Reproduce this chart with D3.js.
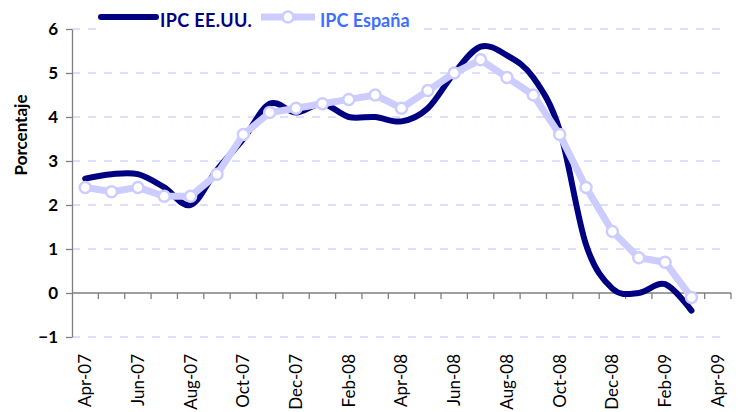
<!DOCTYPE html>
<html>
<head>
<meta charset="utf-8">
<script src="https://d3js.org/d3.v7.min.js"></script>
<style>
  body { margin: 0; background: #fff; }
  svg { font-family: Lato, "Open Sans", sans-serif; }
</style>
</head>
<body>
<svg width="743" height="412"></svg>
<script>
// months on the category axis (last one has no data)
var months = ["Apr-07","May-07","Jun-07","Jul-07","Aug-07","Sep-07","Oct-07","Nov-07","Dec-07",
  "Jan-08","Feb-08","Mar-08","Apr-08","May-08","Jun-08","Jul-08","Aug-08","Sep-08","Oct-08",
  "Nov-08","Dec-08","Jan-09","Feb-09","Mar-09","Apr-09"];
var ipcUSA = [2.6,2.7,2.7,2.4,2.0,2.8,3.5,4.3,4.1,4.3,4.0,4.0,3.9,4.2,5.0,5.6,5.4,4.9,3.7,1.1,0.1,0.0,0.2,-0.4];
var ipcEsp = [2.4,2.3,2.4,2.2,2.2,2.7,3.6,4.1,4.2,4.3,4.4,4.5,4.2,4.6,5.0,5.3,4.9,4.5,3.6,2.4,1.4,0.8,0.7,-0.1];
var yTicks = [-1,0,1,2,3,4,5,6];

var svg = d3.select("svg");

var x = d3.scaleBand().domain(months).range([72, 731]);
var y = d3.scaleLinear().domain([-1, 6]).range([337, 29]);
var cx = function(i){ return x(months[i]) + x.bandwidth() / 2; };

// dashed gridlines
svg.append("g").selectAll("line")
  .data(yTicks.filter(function(d){ return d != 0; }))
  .enter().append("line")
    .attr("x1", 72).attr("x2", 728)
    .attr("y1", function(d){ return y(d); })
    .attr("y2", function(d){ return y(d); })
    .attr("stroke", "#d4d4ff")
    .attr("stroke-width", 1.3)
    .attr("stroke-dasharray", "8,8");

// y axis
var yAxis = svg.append("g")
    .attr("transform", "translate(72,0)")
    .call(d3.axisLeft(y).tickValues(yTicks).tickSize(6).tickSizeOuter(0).tickFormat(d3.format("d")));
yAxis.selectAll("path, line").attr("stroke", "#7f7f7f").attr("stroke-width", 1.3);
yAxis.selectAll("text")
    .attr("x", -14)
    .attr("font-family", "Lato, sans-serif")
    .attr("font-size", 17)
    .attr("font-weight", "bold")
    .attr("fill", "#000");

svg.append("text")
    .attr("transform", "translate(21,135) rotate(-90)")
    .attr("dy", "0.35em")
    .attr("text-anchor", "middle")
    .attr("font-size", 17)
    .attr("font-weight", "bold")
    .text("Porcentaje");

// x axis at y = 0
var xg = svg.append("g").attr("transform", "translate(0," + y(0) + ")");
xg.append("line").attr("x1", 72).attr("x2", 731).attr("stroke", "#7f7f7f").attr("stroke-width", 1.3);
xg.selectAll(".tk")
  .data(d3.range(1, months.length + 1))
  .enter().append("line")
    .attr("class", "tk")
    .attr("x1", function(i){ return 72 + i * x.step(); })
    .attr("x2", function(i){ return 72 + i * x.step(); })
    .attr("y1", 0).attr("y2", 6)
    .attr("stroke", "#7f7f7f").attr("stroke-width", 1.3);

svg.append("g").selectAll("text")
  .data(months.filter(function(d, i){ return i % 2 == 0; }))
  .enter().append("text")
    .attr("transform", function(d){ return "translate(" + (x(d) + x.bandwidth() / 2) + ",354) rotate(-90)"; })
    .attr("dy", "0.35em")
    .attr("text-anchor", "end")
    .attr("font-size", 17)
    .text(function(d){ return d; });

// series
var usLine = d3.line()
    .x(function(d, i){ return cx(i); })
    .y(function(d){ return y(d); })
    .curve(d3.curveCardinal.tension(0));
var espLine = d3.line()
    .x(function(d, i){ return cx(i); })
    .y(function(d){ return y(d); });

svg.append("path")
    .datum(ipcUSA)
    .attr("d", usLine)
    .attr("fill", "none")
    .attr("stroke", "#000080")
    .attr("stroke-width", 6)
    .attr("stroke-linecap", "round")
    .attr("stroke-linejoin", "round");

svg.append("path")
    .datum(ipcEsp)
    .attr("d", espLine)
    .attr("fill", "none")
    .attr("stroke", "#ccccff")
    .attr("stroke-width", 7)
    .attr("stroke-linejoin", "round");

svg.append("g").selectAll("circle")
  .data(ipcEsp)
  .enter().append("circle")
    .attr("cx", function(d, i){ return cx(i); })
    .attr("cy", function(d){ return y(d); })
    .attr("r", 5.5)
    .attr("fill", "#fff")
    .attr("stroke", "#ccccff")
    .attr("stroke-width", 2.5);

// legend
var legend = svg.append("g");
legend.append("rect").attr("x", 98).attr("y", 4).attr("width", 322).attr("height", 28).attr("fill", "#fff");
legend.append("line").attr("x1", 101).attr("x2", 156).attr("y1", 17).attr("y2", 17)
    .attr("stroke", "#000080").attr("stroke-width", 6).attr("stroke-linecap", "round");
legend.append("text").attr("x", 160).attr("y", 27)
    .attr("font-size", 18).attr("font-weight", "bold").attr("fill", "#000080")
    .attr("letter-spacing", 0.4)
    .text("IPC EE.UU.");
legend.append("line").attr("x1", 261).attr("x2", 315).attr("y1", 17).attr("y2", 17)
    .attr("stroke", "#ccccff").attr("stroke-width", 7);
legend.append("circle").attr("cx", 288).attr("cy", 17).attr("r", 5.5)
    .attr("fill", "#fff").attr("stroke", "#ccccff").attr("stroke-width", 2.5);
legend.append("text").attr("x", 320).attr("y", 27)
    .attr("font-size", 18).attr("font-weight", "bold").attr("fill", "#3f6fff")
    .text("IPC España");
</script>
</body>
</html>
